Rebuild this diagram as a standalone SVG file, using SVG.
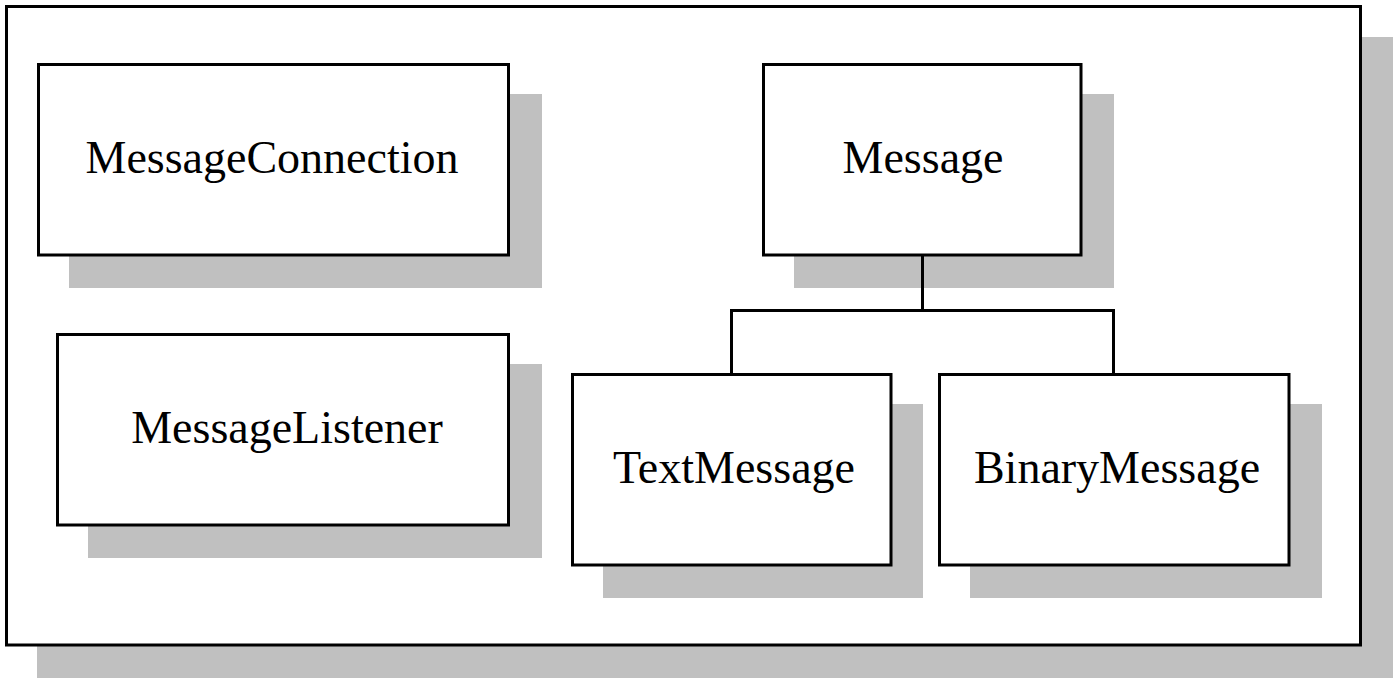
<svg xmlns="http://www.w3.org/2000/svg" width="1400" height="683" viewBox="0 0 1400 683">
<style>
.shadow{fill:#c0c0c0;}
.box{fill:#fff;stroke:#000;stroke-width:3;}
.lbl{font-family:"Liberation Serif","Times New Roman",serif;font-size:46px;fill:#000;text-anchor:middle;}
.conn{fill:none;stroke:#000;stroke-width:3;}
</style>
<rect width="1400" height="683" fill="#fff"/>
<g id="frame">
<rect class="shadow" x="37" y="37" width="1356" height="641"/>
<rect class="box" x="6.5" y="6.5" width="1354" height="638.5"/>
</g>
<g id="MessageConnection">
<rect class="shadow" x="69" y="94" width="473" height="194"/>
<rect class="box" x="38.5" y="64.5" width="470" height="190.5"/>
<text class="lbl" x="272" y="173">MessageConnection</text>
</g>
<g id="MessageListener">
<rect class="shadow" x="88" y="364" width="454" height="194"/>
<rect class="box" x="57.5" y="334.5" width="451" height="190.5"/>
<text class="lbl" x="287" y="443">MessageListener</text>
</g>
<g id="Message">
<rect class="shadow" x="794" y="94" width="320" height="194"/>
<rect class="box" x="763.5" y="64.5" width="317.5" height="190.5"/>
<text class="lbl" x="923" y="173">Message</text>
</g>
<g id="TextMessage">
<rect class="shadow" x="603" y="404" width="320" height="194"/>
<rect class="box" x="572.5" y="374.5" width="318.5" height="190.5"/>
<text class="lbl" x="734" y="483">TextMessage</text>
</g>
<g id="BinaryMessage">
<rect class="shadow" x="970" y="404" width="352" height="194"/>
<rect class="box" x="939.5" y="374.5" width="349.5" height="190.5"/>
<text class="lbl" x="1117" y="483">BinaryMessage</text>
</g>
<g id="connectors">
<path class="conn" d="M922.5 255 V311 M731.5 374 V310.5 H1113.5 V374"/>
</g>
</svg>
